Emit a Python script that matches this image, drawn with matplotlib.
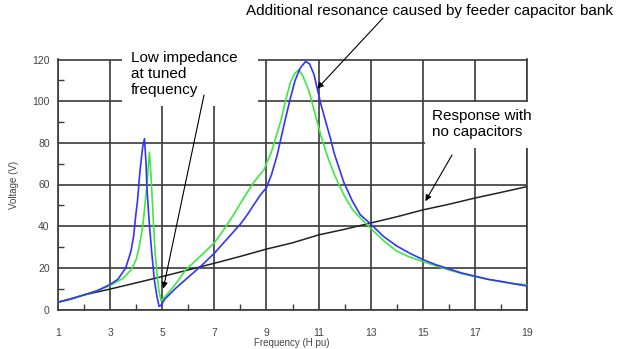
import matplotlib
matplotlib.use('Agg')
import matplotlib.pyplot as plt
from matplotlib.patches import Rectangle

# frequency response curves
blue_x = [1.0, 1.5, 2.0, 2.5, 3.0, 3.3, 3.6, 3.8, 3.9, 4.0, 4.05, 4.15, 4.25, 4.32, 4.38, 4.41,
          4.5, 4.6, 4.7, 4.8, 4.88, 4.95, 5.1, 5.5, 6.0, 6.5, 7.0, 7.5, 8.0, 8.26, 8.5, 8.77,
          9.0, 9.2, 9.41, 9.7, 9.92, 10.1, 10.3, 10.5, 10.65, 10.82, 11.08, 11.3, 11.46, 11.6,
          11.97, 12.3, 12.6, 13.0, 13.5, 14.0, 14.5, 15.0, 15.5, 16.0, 16.5, 17.0, 17.5, 18.0,
          18.5, 19.0]
blue_y = [3.5, 5, 7, 9, 12, 14.5, 20, 28, 35, 47, 52, 67, 78, 82, 70, 59,
          42, 27, 14, 6, 1.5, 2, 5, 10, 15.5, 21, 27, 34, 41, 45.4, 50, 55,
          58.5, 65, 74, 90, 101.5, 110, 116, 119, 118, 113, 99, 89, 82, 75,
          61, 52, 45.5, 41, 35, 30.5, 27, 24, 21.5, 19.5, 17.5, 16, 14.5, 13.5,
          12.3, 11.3]

green_x = [1.0, 2.0, 2.5, 3.0, 3.5, 3.8, 4.0, 4.1, 4.2, 4.28, 4.35, 4.41, 4.46, 4.51, 4.55,
           4.6, 4.67, 4.73, 4.8, 4.86, 4.96, 5.1, 5.5, 5.9, 6.5, 7.0, 7.4, 7.74, 8.1, 8.51,
           8.9, 9.2, 9.54, 9.75, 9.92, 10.1, 10.24, 10.4, 10.63, 10.8, 10.95, 11.1, 11.33,
           11.6, 11.97, 12.3, 12.6, 13.0, 13.5, 14.0, 14.5, 15.0, 15.5, 16.0, 16.5, 17.0,
           17.5, 18.0, 18.5, 19.0]
green_y = [3.5, 7, 9, 11.5, 15, 19, 24, 29, 36, 43, 52, 59, 68, 75.5, 68,
           57, 40, 27, 17, 10, 4, 6, 12, 19, 26, 32, 39, 45.5, 53, 61,
           67, 76, 90, 101, 109, 113.5, 115, 112, 105, 97, 90, 83, 74,
           65, 55, 48, 44, 39, 33, 28, 25.2, 23, 21, 19, 17.2, 15.8,
           14.5, 13.3, 12.5, 11.8]

black_x = list(range(1, 20))
black_y = [3.5, 7, 9.8, 12.8, 15.8, 19, 22.2, 25.5, 29, 32, 35.8, 38.5, 41.5, 44.5,
           47.8, 50.5, 53.5, 56.2, 59]

W, H = 628, 349


def px(x, y):
    # pixel position (from top-left) -> figure fraction
    return (x / W, 1 - y / H)


fig = plt.figure(figsize=(W / 100, H / 100), dpi=100)
ax = fig.add_axes([58 / W, 1 - 309.5 / H, (527 - 58) / W, (309.5 - 59.5) / H])

ax.plot(black_x, black_y, color='#222222', lw=1.1, zorder=3)
ax.plot(green_x, green_y, color='#3ee83e', lw=1.2, zorder=3)
ax.plot(blue_x, blue_y, color='#3333ff', lw=1.2, zorder=4)

ax.set_xlim(1, 19)
ax.set_ylim(0, 120)
ax.set_xticks(range(1, 20, 2))
ax.set_xticks(range(2, 19, 2), minor=True)
ax.set_yticks(range(0, 121, 20))
ax.set_yticks(range(10, 120, 20), minor=True)
ax.grid(True, which='major', color='#3a3a3a', lw=1.2)
ax.set_axisbelow(True)

for s in ax.spines.values():
    s.set_color('#3a3a3a')
    s.set_linewidth(1.2)

ax.tick_params(which='major', length=0, labelsize=7.5, labelcolor='#444444')
ax.tick_params(axis='x', which='major', pad=13)
ax.tick_params(axis='y', which='major', pad=6)
ax.tick_params(which='minor', direction='in', length=4, width=1, color='#3a3a3a')
for lab in ax.get_xticklabels() + ax.get_yticklabels():
    lab.set_family('Liberation Sans')

fig.text(*px(292, 343), 'Frequency (H pu)', ha='center', va='center', fontsize=7,
         color='#444444', family='Liberation Sans')
fig.text(*px(14, 185), 'Voltage (V)', ha='center', va='center', rotation=90, fontsize=7,
         color='#444444', family='Liberation Sans')

# white label boxes that hide the grid
for (x0, y0, x1, y1) in [(122, 30, 258, 106), (425, 102, 545, 148)]:
    ax.add_patch(Rectangle(px(x0, y1), (x1 - x0) / W, (y1 - y0) / H, transform=fig.transFigure,
                           fc='white', ec='none', clip_on=False, zorder=5))

tkw = dict(fontsize=11, color='black', family='Liberation Sans', zorder=7, transform=fig.transFigure)
ax.text(*px(430, 11), 'Additional resonance caused by feeder capacitor bank', ha='center', va='center', **tkw)
ax.text(*px(131, 51), 'Low impedance\nat tuned\nfrequency', ha='left', va='top', linespacing=1.2, **tkw)
ax.text(*px(432, 109), 'Response with\nno capacitors', ha='left', va='top', linespacing=1.2, **tkw)

akw = dict(arrowstyle='-|>', color='black', lw=0.8, mutation_scale=9, shrinkA=0, shrinkB=0)
ax.annotate('', xy=(10.95, 106), xytext=px(383, 18), textcoords='figure fraction',
            arrowprops=akw, annotation_clip=False, zorder=8)
ax.annotate('', xy=(5.04, 10), xytext=px(204, 95), textcoords='figure fraction',
            arrowprops=akw, annotation_clip=False, zorder=8)
ax.annotate('', xy=(15.1, 52), xytext=px(452, 155), textcoords='figure fraction',
            arrowprops=akw, annotation_clip=False, zorder=8)

fig.savefig('out.png', dpi=100)
